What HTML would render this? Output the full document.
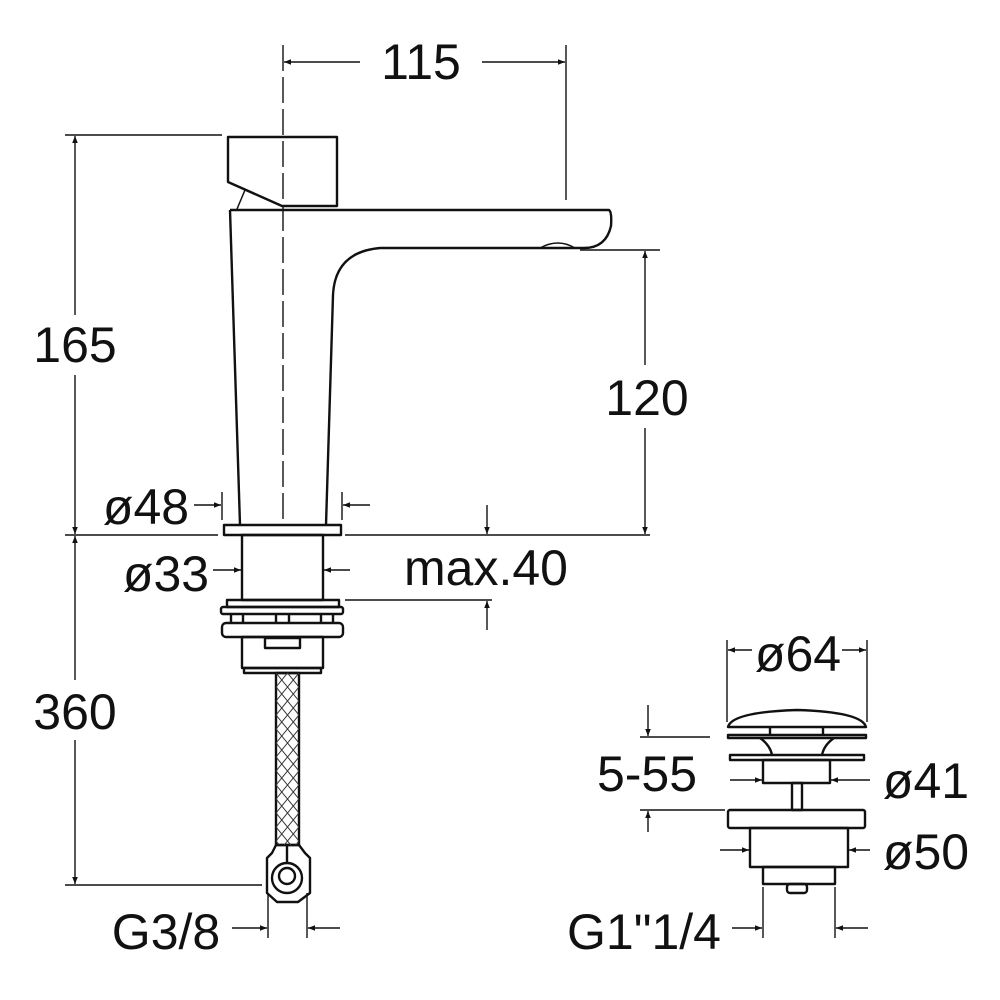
<!DOCTYPE html>
<html><head><meta charset="utf-8"><style>body{margin:0;background:#fff}svg{display:block}text{font-family:"Liberation Sans",sans-serif;font-size:50px;fill:#111}</style></head><body>
<svg width="1000" height="1000" viewBox="0 0 1000 1000" xmlns="http://www.w3.org/2000/svg">
<defs><marker id="a" viewBox="0 0 10 10" refX="10" refY="5" markerWidth="15" markerHeight="7" orient="auto" markerUnits="userSpaceOnUse"><path d="M0,1 L10,5 L0,9z" fill="#111"/></marker></defs>
<g fill="none" stroke="#111" stroke-width="1.4">
<line x1="566" y1="45" x2="566" y2="200"/>
<line x1="65" y1="135" x2="222" y2="135"/>
<line x1="65" y1="535" x2="218" y2="535"/>
<line x1="345" y1="535" x2="650" y2="535"/>
<line x1="65" y1="885" x2="262" y2="885"/>
<line x1="580" y1="250" x2="660" y2="250"/>
<line x1="222" y1="492" x2="222" y2="520"/>
<line x1="342" y1="492" x2="342" y2="520"/>
<line x1="345" y1="600" x2="492" y2="600"/>
<line x1="268" y1="893" x2="268" y2="938"/>
<line x1="307" y1="893" x2="307" y2="938"/>
<line x1="727" y1="640" x2="727" y2="722"/>
<line x1="867" y1="640" x2="867" y2="722"/>
<line x1="640" y1="737" x2="710" y2="737"/>
<line x1="640" y1="810" x2="725" y2="810"/>
<line x1="763" y1="887" x2="763" y2="938"/>
<line x1="835" y1="887" x2="835" y2="938"/>
<line x1="283" y1="45" x2="283" y2="525" stroke-dasharray="26,6"/>
</g>
<g fill="none" stroke="#111" stroke-width="1.4" marker-end="url(#a)">
<line x1="360" y1="62" x2="284" y2="62"/><line x1="482" y1="62" x2="565" y2="62"/>
<line x1="75" y1="315" x2="75" y2="136"/><line x1="75" y1="375" x2="75" y2="534"/>
<line x1="75" y1="680" x2="75" y2="536"/><line x1="75" y1="740" x2="75" y2="884"/>
<line x1="645" y1="365" x2="645" y2="251"/><line x1="645" y1="428" x2="645" y2="534"/>
<line x1="194" y1="505" x2="221" y2="505"/><line x1="370" y1="505" x2="343" y2="505"/>
<line x1="213" y1="570" x2="241" y2="570"/><line x1="350" y1="570" x2="324" y2="570"/>
<line x1="487" y1="505" x2="487" y2="534"/><line x1="487" y1="630" x2="487" y2="601"/>
<line x1="232" y1="928" x2="267" y2="928"/><line x1="340" y1="928" x2="308" y2="928"/>
<line x1="752" y1="650" x2="728" y2="650"/><line x1="842" y1="650" x2="866" y2="650"/>
<line x1="648" y1="705" x2="648" y2="736"/><line x1="648" y1="832" x2="648" y2="811"/>
<line x1="730" y1="780" x2="762" y2="780"/><line x1="870" y1="780" x2="831" y2="780"/>
<line x1="720" y1="850" x2="749" y2="850"/><line x1="870" y1="850" x2="849" y2="850"/>
<line x1="732" y1="928" x2="762" y2="928"/><line x1="868" y1="928" x2="836" y2="928"/>
</g>
<g fill="none" stroke="#111" stroke-width="2.4" stroke-linejoin="round">
<path d="M228,137 L337,137 L337,206 L282,206 L228,182 Z"/>
<path d="M237,209 L245,190" stroke-width="1.5"/>
<path d="M230,210 L609,210 Q612,212 611,226 Q606,248 584,248 L380,248 Q335,252 333,295 L326,525 M240,525 L230,210"/>
<path d="M540,248 Q558,238 575,248" stroke-width="1.5"/>
<rect x="224" y="525" width="117" height="10"/>
<rect x="242" y="535" width="81" height="65"/>
<rect x="227" y="600" width="112" height="7"/>
<rect x="221" y="607" width="122" height="7" rx="2"/>
<rect x="222" y="623" width="121" height="14" rx="4"/>
<path d="M231,614 V623 M243,614 V623 M276,614 V623 M289,614 V623 M321,614 V623 M333,614 V623"/>
<rect x="242" y="637" width="81" height="31"/>
<rect x="265" y="638" width="35" height="10"/>
<rect x="244" y="668" width="77" height="5"/>
<rect x="276" y="673" width="23" height="172"/>
<path d="M276,845 L299,845 L305,853 L310,858 L310,893 L298,902 L277,902 L267,893 L267,858 L272,853 Z"/>
<circle cx="287" cy="878" r="15"/><circle cx="287" cy="876" r="8"/>
<path d="M287,845 V862"/>
</g>
<svg x="276" y="673" width="23" height="172"><defs><pattern id="p" width="11.5" height="14" patternUnits="userSpaceOnUse"><path d="M0,0 L11.5,14 M11.5,0 L0,14" stroke="#333" stroke-width="1"/></pattern></defs><rect width="23" height="172" fill="url(#p)"/></svg>
<g fill="none" stroke="#111" stroke-width="2.4" stroke-linejoin="round">
<path d="M728,727 Q732,712 797,710 Q862,712 866,727 Z"/>
<path d="M770,727 V735 M823,727 V735"/>
<path d="M728,735 H866 V738 H728 Z"/>
<path d="M760,738 Q770,745 772,755 M834,738 Q824,745 822,755"/>
<rect x="730" y="755" width="134" height="5"/>
<rect x="763" y="760" width="67" height="23"/>
<rect x="792" y="783" width="10" height="27"/>
<rect x="728" y="810" width="137" height="18" rx="2"/>
<rect x="750" y="828" width="98" height="39"/>
<rect x="763" y="867" width="72" height="17"/>
<rect x="787" y="884" width="20" height="9" rx="3"/>
</g>
<text x="421" y="79" text-anchor="middle">115</text>
<text x="75" y="362" text-anchor="middle">165</text>
<text x="75" y="729" text-anchor="middle">360</text>
<text x="647" y="415" text-anchor="middle">120</text>
<text x="146" y="524" text-anchor="middle">ø48</text>
<text x="166" y="591" text-anchor="middle">ø33</text>
<text x="486" y="585" text-anchor="middle">max.40</text>
<text x="166" y="949" text-anchor="middle">G3/8</text>
<text x="798" y="671" text-anchor="middle">ø64</text>
<text x="647" y="791" text-anchor="middle">5-55</text>
<text x="926" y="798" text-anchor="middle">ø41</text>
<text x="926" y="869" text-anchor="middle">ø50</text>
<text x="644" y="949" text-anchor="middle">G1"1/4</text>
</svg>
</body></html>
